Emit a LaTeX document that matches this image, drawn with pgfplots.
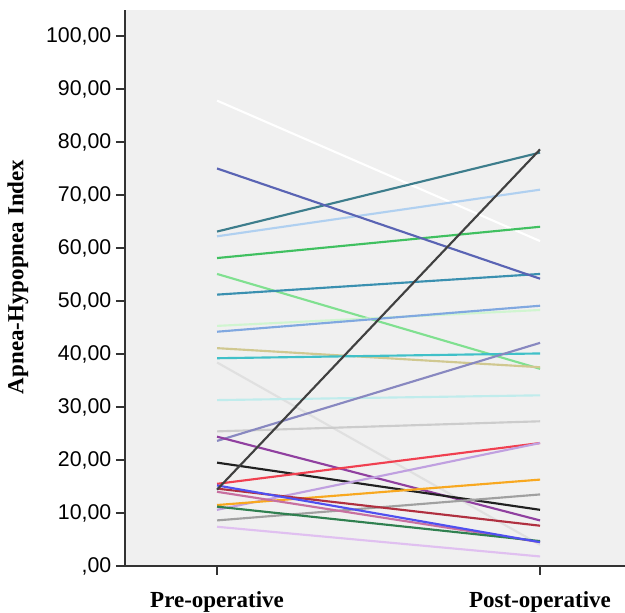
\documentclass[border=0pt]{standalone}
\usepackage{pgfplots}
\pgfplotsset{compat=1.18}
\usepackage{fontspec}
\setmainfont{Liberation Serif}
\newfontfamily\arialf{Liberation Sans}
\definecolor{bg}{HTML}{F0F0F0}
\begin{document}
\begin{tikzpicture}
\begin{axis}[
  name=ax,
  scale only axis,
  width=375pt, height=417pt,
  xmin=0.715, xmax=2.263,
  ymin=0, ymax=104.9,
  axis x line*=bottom, axis y line*=left,
  axis line style={draw=black!80, line width=1.2pt},
  axis background/.style={fill=bg},
  tick align=outside,
  major tick length=6.75pt,
  tick style={draw=black!80, line width=1.1pt},
  xtick={1,2},
  xticklabels={Pre-operative,\raisebox{-3pt}{Post-operative}},
  xticklabel style={font=\fontsize{17.25}{20}\selectfont\bfseries, yshift=-9pt},
  ytick={0,10,20,30,40,50,60,70,80,90,100},
  yticklabels={{,00},{10,00},{20,00},{30,00},{40,00},{50,00},{60,00},{70,00},{80,00},{90,00},{100,00}},
  yticklabel style={font=\arialf\fontsize{16}{18}\selectfont, text=black},
  ylabel={Apnea-Hypopnea Index},
  ylabel style={font=\fontsize{17.25}{20}\selectfont\bfseries, at={(axis description cs:-0.214,0.52)}, anchor=center},
  every axis plot/.append style={line width=1.6pt},
]
\addplot[color={rgb,255:red,255;green,255;blue,255}] coordinates {(1,87.8) (2,61.3)};
\addplot[color={rgb,255:red,61;green,125;blue,140}] coordinates {(1,63.1) (2,78.0)};
\addplot[color={rgb,255:red,176;green,208;blue,240}] coordinates {(1,62.2) (2,71.0)};
\addplot[color={rgb,255:red,64;green,192;blue,96}] coordinates {(1,58.1) (2,64.0)};
\addplot[color={rgb,255:red,128;green,224;blue,144}] coordinates {(1,55.1) (2,37.2)};
\addplot[color={rgb,255:red,58;green,144;blue,176}] coordinates {(1,51.2) (2,55.1)};
\addplot[color={rgb,255:red,208;green,245;blue,208}] coordinates {(1,45.3) (2,48.3)};
\addplot[color={rgb,255:red,128;green,168;blue,224}] coordinates {(1,44.2) (2,49.1)};
\addplot[color={rgb,255:red,208;green,200;blue,144}] coordinates {(1,41.1) (2,37.5)};
\addplot[color={rgb,255:red,64;green,192;blue,200}] coordinates {(1,39.2) (2,40.1)};
\addplot[color={rgb,255:red,224;green,224;blue,224}] coordinates {(1,38.4) (2,4.0)};
\addplot[color={rgb,255:red,192;green,236;blue,236}] coordinates {(1,31.3) (2,32.2)};
\addplot[color={rgb,255:red,204;green,204;blue,204}] coordinates {(1,25.4) (2,27.3)};
\addplot[color={rgb,255:red,136;green,136;blue,192}] coordinates {(1,23.6) (2,42.1)};
\addplot[color={rgb,255:red,144;green,64;blue,160}] coordinates {(1,24.4) (2,8.6)};
\addplot[color={rgb,255:red,32;green,32;blue,32}] coordinates {(1,19.5) (2,10.6)};
\addplot[color={rgb,255:red,240;green,64;blue,80}] coordinates {(1,15.5) (2,23.2)};
\addplot[color={rgb,255:red,192;green,160;blue,224}] coordinates {(1,10.6) (2,23.2)};
\addplot[color={rgb,255:red,248;green,168;blue,32}] coordinates {(1,11.5) (2,16.3)};
\addplot[color={rgb,255:red,160;green,160;blue,160}] coordinates {(1,8.6) (2,13.5)};
\addplot[color={rgb,255:red,176;green,48;blue,64}] coordinates {(1,14.6) (2,7.6)};
\addplot[color={rgb,255:red,200;green,112;blue,160}] coordinates {(1,14.0) (2,4.5)};
\addplot[color={rgb,255:red,48;green,128;blue,80}] coordinates {(1,11.2) (2,4.7)};
\addplot[color={rgb,255:red,80;green,80;blue,240}] coordinates {(1,15.2) (2,4.5)};
\addplot[color={rgb,255:red,224;green,192;blue,240}] coordinates {(1,7.4) (2,1.8)};
\addplot[color={rgb,255:red,90;green,100;blue,180}] coordinates {(1,75.0) (2,54.2)};
\addplot[color={rgb,255:red,64;green,64;blue,64}] coordinates {(1,14.4) (2,78.6)};
\end{axis}
\pgfresetboundingbox
\path[use as bounding box] ([shift={(-93.75pt,-35.25pt)}]ax.south west) rectangle ([yshift=7.5pt]ax.north east);
\end{tikzpicture}
\end{document}
